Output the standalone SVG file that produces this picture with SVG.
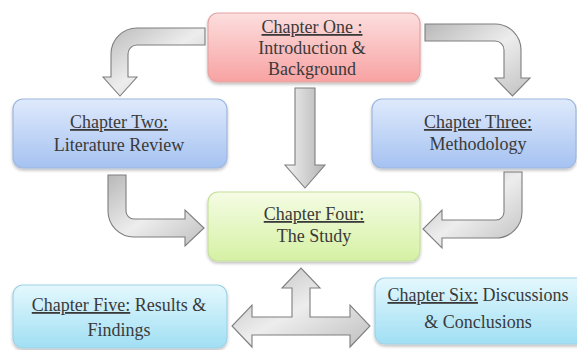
<svg xmlns="http://www.w3.org/2000/svg" width="577" height="350" viewBox="0 0 577 350">
<defs>
<linearGradient id="gPink" x1="0" y1="0" x2="0" y2="1"><stop offset="0" stop-color="#fcdede"/><stop offset="1" stop-color="#f8a2a2"/></linearGradient>
<linearGradient id="gBlue" x1="0" y1="0" x2="0" y2="1"><stop offset="0" stop-color="#dfeafc"/><stop offset="1" stop-color="#a5c2f1"/></linearGradient>
<linearGradient id="gGreen" x1="0" y1="0" x2="0" y2="1"><stop offset="0" stop-color="#f5fce4"/><stop offset="1" stop-color="#d5f1a4"/></linearGradient>
<linearGradient id="gCyan" x1="0" y1="0" x2="0" y2="1"><stop offset="0" stop-color="#e4f8fd"/><stop offset="1" stop-color="#a0dff4"/></linearGradient>
<linearGradient id="gArrow" x1="0" y1="0" x2="1" y2="1"><stop offset="0" stop-color="#b8b8b8"/><stop offset="0.5" stop-color="#ededed"/><stop offset="1" stop-color="#c0c0c0"/></linearGradient>
<linearGradient id="gArrowV" x1="0" y1="0" x2="1" y2="0"><stop offset="0" stop-color="#f2f2f2"/><stop offset="1" stop-color="#b4b4b4"/></linearGradient>
<filter id="sh" x="-10%" y="-10%" width="120%" height="130%"><feDropShadow dx="0" dy="2" stdDeviation="1.5" flood-color="#000" flood-opacity="0.25"/></filter>
</defs>
<style>
.box{stroke-width:1.2;filter:url(#sh)}
.pink{fill:url(#gPink);stroke:#e4a4a4}
.blue{fill:url(#gBlue);stroke:#9db7de}
.green{fill:url(#gGreen);stroke:#c6df9c}
.cyan{fill:url(#gCyan);stroke:#9fd2e6}
.t{font-family:"Liberation Serif","Times New Roman",serif;font-size:18px;fill:#3a3a3a;text-anchor:middle}
.u{text-decoration:underline}
.arr{fill:url(#gArrow);stroke:#7e7e7e;stroke-width:1.1;stroke-linejoin:miter}
.arrv{fill:url(#gArrowV);stroke:#7e7e7e;stroke-width:1.1}
</style>
<rect width="577" height="350" fill="#ffffff"/>
<g id="connectors">
<path class="arr" d="M205,28 L137,28 A26,26 0 0 0 111,54 L111,77 L103,77 L120,96 L137,77 L128,77 L128,54 A9,9 0 0 1 137,45 L205,45 Z"/>
<path class="arr" d="M425,24 L495,24 A26,26 0 0 1 521,50 L521,78 L530,78 L512.5,96 L495,78 L504,78 L504,50 A9,9 0 0 0 495,41 L425,41 Z"/>
<path class="arrv" d="M295,88 L315,88 L315,165 L325,165 L305,188 L285,165 L295,165 Z"/>
<path class="arr" d="M108,175 L126,175 L126,211 A8,8 0 0 0 134,219 L185,219 L185,210 L204,228 L185,246 L185,237 L134,237 A26,26 0 0 1 108,211 Z"/>
<path class="arr" d="M504,172 L522,172 L522,212 A26,26 0 0 1 496,238 L442,238 L442,248 L423,229 L442,210 L442,220 L496,220 A8,8 0 0 0 504,212 Z"/>
<path class="arr" d="M292,317 L292,288 L282,288 L301,268 L320,288 L310,288 L310,317 L350,317 L350,305 L370,326 L350,347 L350,335 L252,335 L252,347 L232,326 L252,305 L252,317 Z"/>
</g>
<g id="ch1">
<rect class="box pink" x="208" y="13" width="212" height="69" rx="10"/>
<text class="t" x="312" y="33"><tspan class="u">Chapter One :</tspan></text>
<text class="t" x="312" y="54">Introduction &amp;</text>
<text class="t" x="312" y="75">Background</text>
</g>
<g id="ch2">
<rect class="box blue" x="13" y="99" width="214" height="69" rx="10"/>
<text class="t" x="119" y="128"><tspan class="u">Chapter Two:</tspan></text>
<text class="t" x="119" y="151">Literature Review</text>
</g>
<g id="ch3">
<rect class="box blue" x="372" y="99" width="204" height="69" rx="10"/>
<text class="t" x="478" y="128"><tspan class="u">Chapter Three:</tspan></text>
<text class="t" x="478" y="150">Methodology</text>
</g>
<g id="ch4">
<rect class="box green" x="208" y="192" width="212" height="69" rx="10"/>
<text class="t" x="314" y="220"><tspan class="u">Chapter Four:</tspan></text>
<text class="t" x="314" y="242">The Study</text>
</g>
<g id="ch5">
<rect class="box cyan" x="13" y="285" width="214" height="63" rx="10"/>
<text class="t" x="119" y="311"><tspan class="u">Chapter Five:</tspan> Results &amp;</text>
<text class="t" x="119" y="336">Findings</text>
</g>
<g id="ch6">
<rect class="box cyan" x="375" y="278" width="215" height="66" rx="10"/>
<text class="t" x="478" y="301"><tspan class="u">Chapter Six:</tspan> Discussions</text>
<text class="t" x="478" y="328">&amp; Conclusions</text>
</g>
</svg>
